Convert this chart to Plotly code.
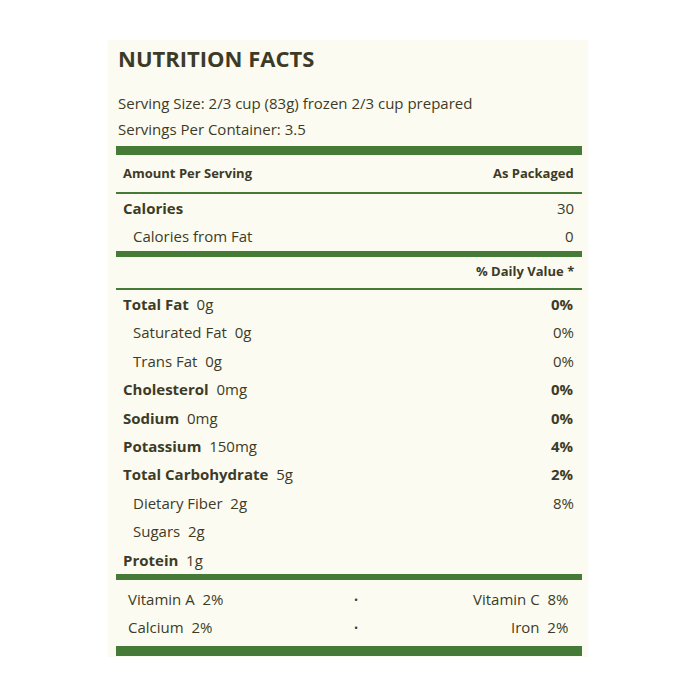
import plotly.graph_objects as go

# label text
title = "NUTRITION FACTS"
serving_size = "Serving Size: 2/3 cup (83g) frozen 2/3 cup prepared"
servings = "Servings Per Container: 3.5"
calories = 30
calories_fat = 0

nutrient_names = ["Total Fat", "Saturated Fat", "Trans Fat", "Cholesterol", "Sodium",
                  "Potassium", "Total Carbohydrate", "Dietary Fiber", "Sugars", "Protein"]
nutrient_amounts = ["0g", "0g", "0g", "0mg", "0mg", "150mg", "5g", "2g", "2g", "1g"]
nutrient_dv = ["0%", "0%", "0%", "0%", "0%", "4%", "2%", "8%", "", ""]
nutrient_main = [True, False, False, True, True, True, True, False, False, True]

vitamins_left = [("Vitamin A", "2%"), ("Calcium", "2%")]
vitamins_right = [("Vitamin C", "8%"), ("Iron", "2%")]

INK = "#3d3b27"
GREEN = "#457a37"
BG = "#fcfbf1"
FONT = "Open Sans"
L, R = 116, 582

fig = go.Figure()
shapes = [dict(type="rect", x0=108, x1=588, y0=40, y1=657, fillcolor=BG, line_width=0, layer="below")]
ann = []

def text(x, y, s, size=15, anchor="left", bold=False):
    if bold:
        s = "<b>" + s + "</b>"
    ann.append(dict(x=x, y=y, text=s, xanchor=anchor, yanchor="middle", showarrow=False,
                    font=dict(family=FONT, size=size, color=INK)))

def bar(y0, y1):
    shapes.append(dict(type="rect", x0=L, x1=R, y0=y0, y1=y1, fillcolor=GREEN, line_width=0))

text(L, 58, title, size=22, bold=True)
text(L, 103, serving_size, size=15)
text(L, 129, servings, size=15)
bar(146, 155)
text(121, 173, "Amount Per Serving", size=13, bold=True)
text(576, 173, "As Packaged", size=13, anchor="right", bold=True)
bar(192, 194)
text(121, 208, "<b>Calories</b>", size=15)
text(576, 208, str(calories), size=15, anchor="right")
text(131, 236, "Calories from Fat", size=15)
text(576, 236, str(calories_fat), size=15, anchor="right")
bar(251, 257)
text(576, 271, "% Daily Value *", size=13, anchor="right", bold=True)
bar(288, 290)

y0, step = 304, 28.4
for i, (n, a, dv, main) in enumerate(zip(nutrient_names, nutrient_amounts, nutrient_dv, nutrient_main)):
    y = y0 + i * step
    if main:
        text(121, y, "<b>" + n + "</b>  " + a, size=15)
        text(576, y, dv, size=15, anchor="right", bold=True)
    else:
        text(131, y, n + "  " + a, size=15)
        text(576, y, dv, size=15, anchor="right")

bar(574, 580)
for i, ((ln, lv), (rn, rv)) in enumerate(zip(vitamins_left, vitamins_right)):
    y = 599 + i * 28
    text(126, y, ln + "  " + lv, size=15)
    text(356, y, "•", size=11, anchor="center")
    text(570, y, rn + "  " + rv, size=15, anchor="right")
bar(646, 656)

# page has an 8px body margin, so shift the pixel frame to compensate
fig.update_layout(
    width=700, height=700, margin=dict(l=0, r=0, t=0, b=0),
    paper_bgcolor="white", plot_bgcolor="white",
    xaxis=dict(range=[8, 708], visible=False, fixedrange=True),
    yaxis=dict(range=[708, 8], visible=False, fixedrange=True),
    shapes=shapes, annotations=ann, showlegend=False,
)
fig.write_html("out.html")
